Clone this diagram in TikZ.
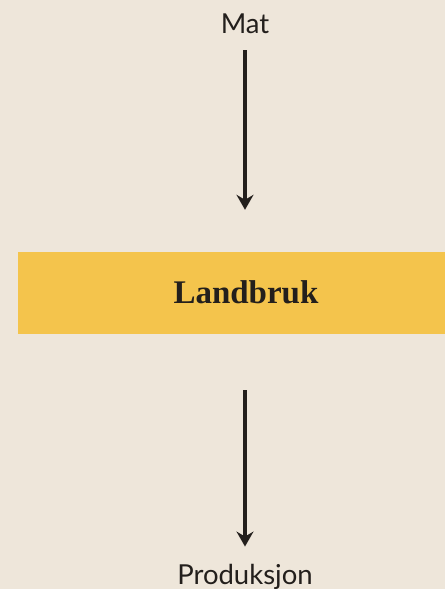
\documentclass[tikz,border=0pt]{standalone}
\usepackage{fontspec}
\setmainfont{Liberation Serif}
\newfontfamily\labelfont{Lato}
\usetikzlibrary{arrows.meta}

\definecolor{paper}{HTML}{EEE6DA}
\definecolor{wheat}{HTML}{F4C44C}
\definecolor{ink}{HTML}{231F1C}

\begin{document}
\begin{tikzpicture}[x=1pt,y=-1pt,
    flow/.style={ink,line width=3.8pt,-{Stealth[length=15pt,width=17pt,inset=5pt]}},
    endlabel/.style={ink,inner sep=0pt,anchor=base,font=\labelfont\fontsize{27.5}{32}\selectfont},
    bandbox/.style={fill=wheat,draw=none,minimum width=427pt,minimum height=82pt,inner sep=0pt},
    title/.style={ink,inner sep=0pt,anchor=base,font=\bfseries\fontsize{33}{40}\selectfont}]
  % Background
  \fill[paper] (0,0) rectangle (445,589);
  \useasboundingbox (0,0) rectangle (445,589);
  %
  % Band
  \node[bandbox] (band) at (231.5,293) {};
  \node[title] (landbruk) at (246,303) {Landbruk};
  %
  % Labels
  \node[endlabel] (mat) at (245,34) {Mat};
  \node[endlabel] (prod) at (245,584) {Produksjon};
  %
  % Arrows
  \draw[flow,shorten <=16pt,shorten >=42pt] (mat.south) -- (mat.south |- band.north);
  \draw[flow,shorten <=56pt,shorten >=17pt] (band.south -| prod.north) -- (prod.north);
\end{tikzpicture}
\end{document}
